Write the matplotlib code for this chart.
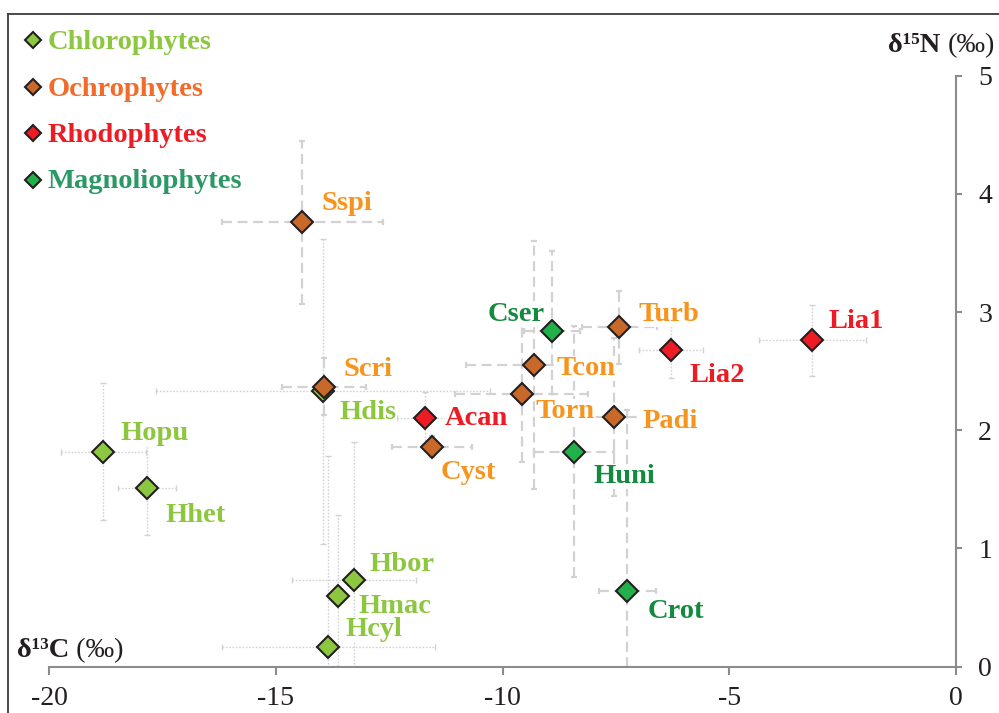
import matplotlib
matplotlib.use("Agg")
import matplotlib.pyplot as plt
from matplotlib.lines import Line2D
from matplotlib.text import Annotation

plt.rcParams['font.family'] = ['Liberation Serif', 'DejaVu Serif']
plt.rcParams['axes.unicode_minus'] = False

# Isotopic signatures (mean ± SD) of macrophyte taxa
taxa = ["Hopu", "Hhet", "Hdis", "Hbor", "Hmac", "Hcyl",
        "Sspi", "Scri", "Cyst", "Torn", "Tcon", "Turb", "Padi",
        "Acan", "Lia2", "Lia1",
        "Cser", "Huni", "Crot"]
groups = ["Chlorophytes"] * 6 + ["Ochrophytes"] * 7 + ["Rhodophytes"] * 3 + ["Magnoliophytes"] * 3
d13c = [-18.81, -17.85, -13.96, -13.28, -13.63, -13.85,
        -14.42, -13.94, -11.56, -9.58, -9.31, -7.43, -7.54,
        -11.71, -6.29, -3.17,
        -8.92, -8.42, -7.25]
d15n = [1.82, 1.51, 2.33, 0.73, 0.60, 0.17,
        3.76, 2.37, 1.86, 2.31, 2.55, 2.87, 2.11,
        2.10, 2.68, 2.76,
        2.84, 1.82, 0.64]
sd13c = [0.94, 0.64, 3.68, 1.37, 0.15, 2.35,
         1.77, 0.92, 0.89, 1.47, 1.50, 0.83, 0.75,
         0.63, 0.71, 1.18,
         0.62, 0.88, 0.63]
sd15n = [0.58, 0.40, 1.29, 1.17, 0.68, 1.61,
         0.69, 0.24, 0.09, 0.58, 1.05, 0.31, 0.67,
         0.22, 0.24, 0.30,
         0.68, 1.06, 1.53]

group_order = ["Chlorophytes", "Ochrophytes", "Rhodophytes", "Magnoliophytes"]

# marker fill, point-label colour, legend-text colour, error-bar style
style = {
    "Chlorophytes":   dict(fill="#8dc63f", lab="#8dc63f", leg="#8dc63f", ls=(0, (1.2, 1.2)), lw=1.0),
    "Ochrophytes":    dict(fill="#c8692a", lab="#f7941d", leg="#f26b2a", ls=(0, (4.5, 2.5)), lw=1.6),
    "Rhodophytes":    dict(fill="#ed1c24", lab="#ed1c24", leg="#ed1c24", ls=(0, (1.2, 1.2)), lw=1.0),
    "Magnoliophytes": dict(fill="#22b04b", lab="#138a3e", leg="#2a9965", ls=(0, (4.5, 2.5)), lw=1.6),
}

# label placement (pixel offsets from the point)
label_offsets = {
    "Sspi": (19, 19), "Scri": (19, 17), "Hdis": (16, -21), "Hopu": (17, 18),
    "Hhet": (19, -27), "Hbor": (16, 16), "Hmac": (20, -11), "Hcyl": (17, 17),
    "Acan": (20, 0), "Cyst": (9, -26), "Torn": (14, -18), "Tcon": (23, -3),
    "Cser": (-7, 17), "Turb": (19, 13), "Padi": (28, -4), "Huni": (19, -25),
    "Crot": (20, -20), "Lia1": (16, 19), "Lia2": (19, -26),
}

fig = plt.figure(figsize=(9.99, 7.13), dpi=100)
ax = fig.add_axes([0.04935, 0.06494, 0.9076, 0.8289])
ax.set_xlim(-20, 0)
ax.set_ylim(0, 5)

edge = "#231f20"
for g in group_order:
    idx = [i for i, gg in enumerate(groups) if gg == g]
    xs = [d13c[i] for i in idx]
    ys = [d15n[i] for i in idx]
    st = style[g]
    eb = ax.errorbar(xs, ys, xerr=[sd13c[i] for i in idx], yerr=[sd15n[i] for i in idx],
                     fmt="none", ecolor="#d2d2d2", elinewidth=st["lw"], capsize=2.5,
                     capthick=st["lw"], zorder=1)
    for lc in eb[2]:
        lc.set_linestyle(st["ls"])
    ax.plot(xs, ys, "D", ms=11, mfc=st["fill"], mec=edge, mew=1.5, ls="none", zorder=5)
    for i in idx:
        dx, dy = label_offsets[taxa[i]]
        ax.annotate(taxa[i], (d13c[i], d15n[i]), xytext=(dx, dy), textcoords="offset pixels",
                    ha="right" if dx < 0 else "left", va="center", fontsize=20.5,
                    fontweight="bold", color=st["lab"], zorder=4,
                    bbox=dict(facecolor="white", edgecolor="none", pad=0.3))

# axes styling
for s in ("top", "left"):
    ax.spines[s].set_visible(False)
for s in ("right", "bottom"):
    ax.spines[s].set_color("#8c8c8c")
    ax.spines[s].set_linewidth(1.5)
ax.yaxis.tick_right()
ax.set_xticks([-20, -15, -10, -5, 0])
ax.set_yticks([0, 1, 2, 3, 4, 5])
ax.tick_params(axis="x", direction="out", length=6, width=1.5, color="#8c8c8c",
               pad=8, labelsize=20, labelcolor=edge)
ax.tick_params(axis="y", direction="out", length=4, width=1.5, color="#8c8c8c",
               pad=12, labelsize=20, labelcolor=edge)

# legend
W, H = 999, 713
legend_rows = [40, 86.5, 133, 179.5]
for g, yp in zip(group_order, legend_rows):
    fy = 1 - yp / H
    fig.add_artist(Line2D([33.3 / W], [fy], marker="D", ms=8, mfc=style[g]["fill"],
                          mec=edge, mew=1.5, ls="none", transform=fig.transFigure))
    fig.text(47.5 / W, 1 - (yp + 2.5) / H, g, ha="left", va="center", fontsize=20.5,
             fontweight="bold", color=style[g]["leg"])

# axis titles
t1 = fig.text(17 / W, 1 - 657 / H, "δ¹³C", ha="left", va="baseline",
              fontsize=20.5, fontweight="bold", color=edge)
fig.add_artist(Annotation(" (‰)", xy=(1, 0), xycoords=t1, va="bottom", ha="left",
                          fontsize=20.5, color=edge))
t2 = fig.text(995 / W, 1 - 52 / H, "(‰)", ha="right", va="baseline",
              fontsize=20.5, color=edge)
fig.add_artist(Annotation("δ¹⁵N ", xy=(0, 0), xycoords=t2, va="bottom", ha="right",
                          fontsize=20.5, fontweight="bold", color=edge))

# outer frame
frame_kw = dict(color="#3c3c3c", lw=1.3, transform=fig.transFigure)
fig.add_artist(Line2D([8 / W, 1.0], [1 - 14 / H, 1 - 14 / H], **frame_kw))
fig.add_artist(Line2D([8 / W, 8 / W], [0.0, 1 - 14 / H], **frame_kw))

fig.savefig("out.png", dpi=100)
